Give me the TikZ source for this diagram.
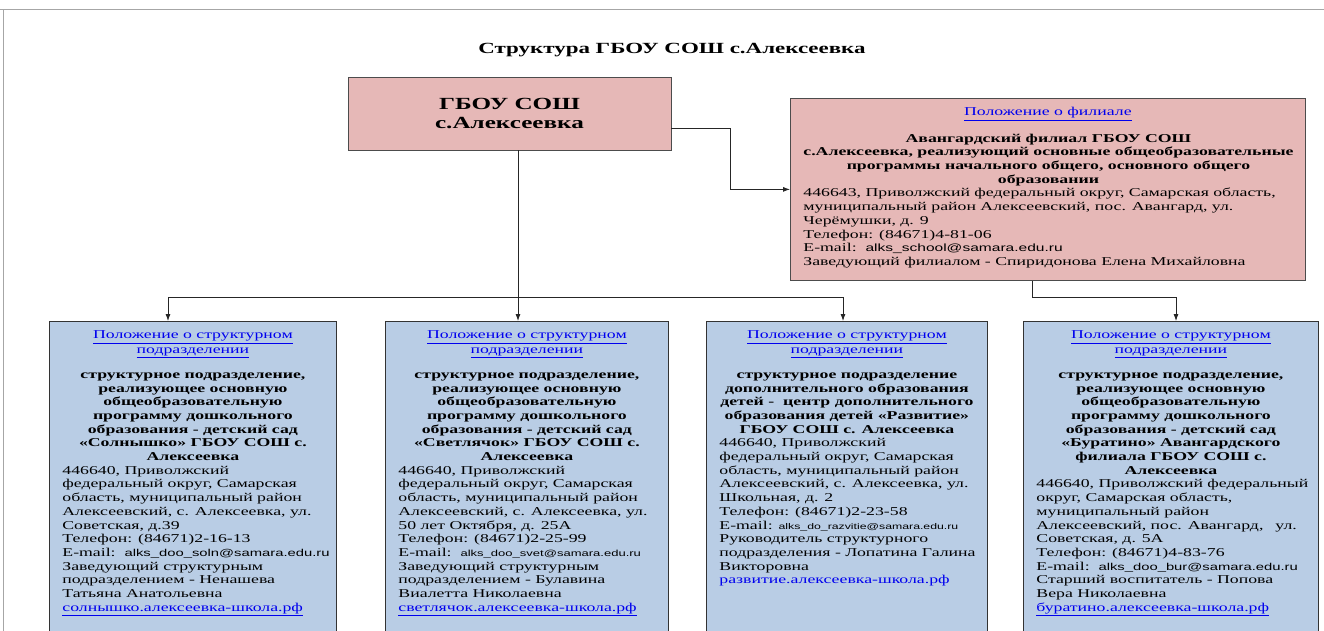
\documentclass[tikz,border=0pt]{standalone}
\usepackage{fontspec}
\usepackage{array}
\setmainfont{Liberation Serif}[FakeStretch=1.48]
\newfontfamily\mailfont{Liberation Sans}[FakeStretch=1.48]
\usetikzlibrary{arrows.meta,positioning}
\definecolor{spblue}{RGB}{185,205,229}
\definecolor{brpink}{RGB}{230,184,183}
\definecolor{linkblue}{RGB}{0,0,238}
\newcommand{\boxfont}{\fontsize{12}{13.7}\selectfont\lineskip=0pt\lineskiplimit=0pt}
\newcommand{\lnk}[1]{\textcolor{linkblue}{\underline{#1}}}
\newcommand{\mail}[2]{{\mailfont\fontsize{#1}{13.7}\selectfont #2}}
\newcommand{\ctr}[1]{{\centering\begin{tabular}{@{}c@{}}#1\end{tabular}\par}}
\newcommand{\bctr}[1]{{\centering\begin{tabular}{@{}>{\bfseries}c@{}}#1\end{tabular}\par}}
\newcommand{\lft}[1]{{\raggedright\begin{tabular}{@{}l@{}}#1\end{tabular}\par}}
\tikzset{
  spbox/.style={draw=black!80, fill=spblue, line width=0.8pt, anchor=north west, inner xsep=13pt, inner ysep=8pt},
  pinkbox/.style={draw=black!70, fill=brpink, line width=0.8pt},
  conn/.style={draw=black!85, line width=0.8pt},
  arr/.style={conn, -{Latex[length=7pt,width=5pt]}}
}
\begin{document}
\begin{tikzpicture}[x=1pt,y=-1pt]
\useasboundingbox (0,0) rectangle (1324,631);
\clip (0,0) rectangle (1324,631);
\fill[white] (0,0) rectangle (1324,631);
\draw[gray!70, line width=1pt] (0,10) -- (1324,10);
\draw[gray!70, line width=1pt] (3,10) -- (3,631);

\node[font=\fontsize{15.5}{18}\selectfont\bfseries] (title) at (672,50) {Структура ГБОУ СОШ с.Алексеевка};

\node[pinkbox, minimum width=323pt, minimum height=73pt, align=center, font=\fontsize{17}{19}\selectfont\bfseries] (gbou) at (509.5,113.5) {ГБОУ СОШ\\с.Алексеевка};

\node[pinkbox, anchor=north west, inner xsep=13pt, inner ysep=8pt] (filial) at (790,98) {\parbox[t][166pt][t]{489pt}{\boxfont
\ctr{\lnk{Положение о филиале}}
\vspace{12pt}
\bctr{Авангардский филиал ГБОУ СОШ\\с.Алексеевка, реализующий основные общеобразовательные\\программы начального общего, основного общего\\образовании}
\lft{446643, Приволжский федеральный округ, Самарская область,\\муниципальный район Алексеевский, пос. Авангард, ул.\\Черёмушки, д. 9\\Телефон: (84671)4-81-06\\E-mail:\ \ \mail{10.5}{alks\_school@samara.edu.ru}\\Заведующий филиалом - Спиридонова Елена Михайловна}}};

\node[spbox] (sp1) at (49,321) {\parbox[t][308pt][t]{261pt}{\boxfont
\ctr{\lnk{Положение о структурном}\\\lnk{подразделении}}
\vspace{11pt}
\bctr{структурное подразделение,\\реализующее основную\\общеобразовательную\\программу дошкольного\\образования - детский сад\\«Солнышко» ГБОУ СОШ с.\\Алексеевка}
\lft{446640, Приволжский\\федеральный округ, Самарская\\область, муниципальный район\\Алексеевский, с. Алексеевка, ул.\\Советская, д.39\\Телефон: (84671)2-16-13\\E-mail:\ \ \mail{10}{alks\_doo\_soln@samara.edu.ru}\\Заведующий структурным\\подразделением - Ненашева\\Татьяна Анатольевна\\\lnk{солнышко.алексеевка-школа.рф}}}};

\node[spbox] (sp2) at (385,321) {\parbox[t][308pt][t]{257pt}{\boxfont
\ctr{\lnk{Положение о структурном}\\\lnk{подразделении}}
\vspace{11pt}
\bctr{структурное подразделение,\\реализующее основную\\общеобразовательную\\программу дошкольного\\образования - детский сад\\«Светлячок» ГБОУ СОШ с.\\Алексеевка}
\lft{446640, Приволжский\\федеральный округ, Самарская\\область, муниципальный район\\Алексеевский, с. Алексеевка, ул.\\50 лет Октября, д. 25А\\Телефон: (84671)2-25-99\\E-mail:\ \ \mail{8.8}{alks\_doo\_svet@samara.edu.ru}\\Заведующий структурным\\подразделением - Булавина\\Виалетта Николаевна\\\lnk{светлячок.алексеевка-школа.рф}}}};

\node[spbox] (sp3) at (706,321) {\parbox[t][308pt][t]{255pt}{\boxfont
\ctr{\lnk{Положение о структурном}\\\lnk{подразделении}}
\vspace{11pt}
\bctr{структурное подразделение\\дополнительного образования\\детей -\ \ центр дополнительного\\образования детей «Развитие»\\ГБОУ СОШ с. Алексеевка}
\lft{446640, Приволжский\\федеральный округ, Самарская\\область, муниципальный район\\Алексеевский, с. Алексеевка, ул.\\Школьная, д. 2\\Телефон: (84671)2-23-58\\E-mail: \mail{8.3}{alks\_do\_razvitie@samara.edu.ru}\\Руководитель структурного\\подразделения - Лопатина Галина\\Викторовна\\\textcolor{linkblue}{развитие.алексеевка-школа.рф}}}};

\node[spbox] (sp4) at (1023,321) {\parbox[t][308pt][t]{269pt}{\boxfont
\ctr{\lnk{Положение о структурном}\\\lnk{подразделении}}
\vspace{11pt}
\bctr{структурное подразделение,\\реализующее основную\\общеобразовательную\\программу дошкольного\\образования - детский сад\\«Буратино» Авангардского\\филиала ГБОУ СОШ с.\\Алексеевка}
\lft{446640, Приволжский федеральный\\округ, Самарская область,\\муниципальный район\\Алексеевский, пос. Авангард,\hspace{12pt}ул.\\Советская, д. 5А\\Телефон: (84671)4-83-76\\E-mail:\ \ \mail{10}{alks\_doo\_bur@samara.edu.ru}\\Старший воспитатель - Попова\\Вера Николаевна\\\lnk{буратино.алексеевка-школа.рф}}}};

\coordinate (bend) at (730,128);
\coordinate (busL) at (168,297);
\coordinate (busM) at (518,297);
\coordinate (busR) at (843,297);
\coordinate (fj) at (1032,297);
\coordinate (fj2) at (1176,297);

\draw[arr] (gbou.east |- bend) -- (bend) |- (filial.west);
\draw[conn] (gbou.south -| busM) -- (busM);
\draw[conn] (busL) -- (busR);
\draw[arr] (busL) -- (busL |- sp1.north);
\draw[arr] (busM) -- (busM |- sp2.north);
\draw[arr] (busR) -- (busR |- sp3.north);
\draw[arr] (filial.south -| fj) -- (fj) -- (fj2) -- (fj2 |- sp4.north);
\end{tikzpicture}
\end{document}
